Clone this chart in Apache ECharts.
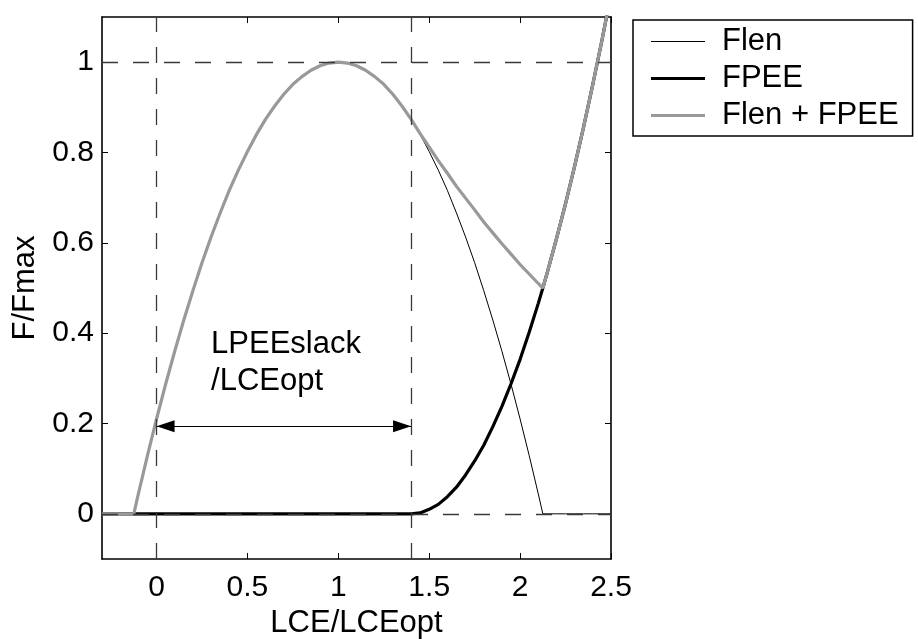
<!DOCTYPE html>
<html>
<head>
<meta charset="utf-8">
<script src="https://cdn.jsdelivr.net/npm/echarts@6/dist/echarts.min.js"></script>
<style>
html, body { margin: 0; padding: 0; background: #fff; }
#chart { width: 918px; height: 639px; }
</style>
</head>
<body>
<div id="chart"></div>
<script>
// Normalised contractile element length LCE/LCEopt
const lce = [-0.3, -0.125, -0.1, -0.05, 0, 0.05, 0.1, 0.15, 0.2, 0.25, 0.3, 0.35, 0.4, 0.45, 0.5,
  0.55, 0.6, 0.65, 0.7, 0.75, 0.8, 0.85, 0.9, 0.95, 1, 1.05, 1.1, 1.15, 1.2, 1.25, 1.3, 1.35, 1.4,
  1.45, 1.5, 1.55, 1.6, 1.65, 1.7, 1.75, 1.8, 1.85, 1.9, 1.95, 2, 2.05, 2.1, 2.125,
  2.15, 2.2, 2.25, 2.3, 2.35, 2.4, 2.45, 2.5];

// Active force-length relation
const flen = [0, 0, 0.044, 0.129, 0.210, 0.287, 0.360, 0.429, 0.494, 0.556, 0.613, 0.666, 0.716, 0.761, 0.802,
  0.840, 0.874, 0.903, 0.929, 0.951, 0.968, 0.982, 0.992, 0.998, 1.000, 0.998, 0.992, 0.982, 0.968, 0.951, 0.929, 0.903, 0.874,
  0.840, 0.802, 0.761, 0.716, 0.666, 0.613, 0.556, 0.494, 0.429, 0.360, 0.287, 0.210, 0.129, 0.044, 0,
  0, 0, 0, 0, 0, 0, 0, 0];

// Parallel elastic element force
const fpee = [0, 0, 0, 0, 0, 0, 0, 0, 0, 0, 0, 0, 0, 0, 0,
  0, 0, 0, 0, 0, 0, 0, 0, 0, 0, 0, 0, 0, 0, 0, 0, 0, 0,
  0.002, 0.010, 0.021, 0.038, 0.059, 0.086, 0.117, 0.152, 0.193, 0.238, 0.288, 0.342, 0.402, 0.466, 0.500,
  0.535, 0.609, 0.687, 0.770, 0.858, 0.951, 1.048, 1.151];

// Total passive + active force
const fsum = [0, 0, 0.044, 0.129, 0.210, 0.287, 0.360, 0.429, 0.494, 0.556, 0.613, 0.666, 0.716, 0.761, 0.802,
  0.840, 0.874, 0.903, 0.929, 0.951, 0.968, 0.982, 0.992, 0.998, 1.000, 0.998, 0.992, 0.982, 0.968, 0.951, 0.929, 0.903, 0.874,
  0.842, 0.812, 0.782, 0.754, 0.725, 0.699, 0.673, 0.646, 0.622, 0.598, 0.575, 0.552, 0.531, 0.510, 0.500,
  0.535, 0.609, 0.687, 0.770, 0.858, 0.951, 1.048, 1.151];

const seriesNames = ['Flen', 'FPEE', 'Flen + FPEE'];
const xTicks = [0, 0.5, 1, 1.5, 2, 2.5];
const yTicks = [0, 0.2, 0.4, 0.6, 0.8, 1];
const xRange = [-0.3, 2.5];
const yRange = [-0.1, 1.1];

// Reference lines and slack-length annotation
const refX = [0, 1.4];          // LCE = 0 and LPEEslack/LCEopt
const refY = [0, 1];
const slackArrow = { from: 0, to: 1.4, level: 0.194 };
const slackText = { x: 0.3, y: 0.417, text: 'LPEEslack\n/LCEopt' };

const FONT = '"Liberation Sans", Arial, Helvetica, sans-serif';
const GRAY = '#999999';
const DASH = '#3a3a3a';

function pairs(ys) { return lce.map((x, i) => [x, ys[i]]); }

function valueAxis(pos, range, ticks, withLabels, name, extra) {
  return Object.assign({
    type: 'value',
    position: pos,
    min: range[0],
    max: range[1],
    splitLine: { show: false },
    axisLine: { show: true, onZero: false, lineStyle: { color: '#000', width: 1.6 } },
    axisTick: { show: true, inside: true, length: 6, customValues: ticks, lineStyle: { color: '#000', width: 1 } },
    axisLabel: withLabels
      ? { show: true, customValues: ticks, color: '#000', fontFamily: FONT, fontSize: 30 }
      : { show: false },
    name: name || '',
    nameLocation: 'middle',
    nameTextStyle: { color: '#000', fontFamily: FONT, fontSize: 31 }
  }, extra || {});
}

const chart = echarts.init(document.getElementById('chart'), null, { renderer: 'canvas' });

const dashStyle = { type: [16, 15], color: DASH, width: 1.3 };

chart.setOption({
  animation: false,
  backgroundColor: '#fff',
  grid: { left: 102, right: 307, top: 17, bottom: 80, outerBoundsMode: 'none', containLabel: false },
  xAxis: [
    valueAxis('bottom', xRange, xTicks, true, 'LCE/LCEopt', { nameGap: 47, axisLabel: { show: true, customValues: xTicks, color: '#000', fontFamily: FONT, fontSize: 30, margin: 14 } }),
    valueAxis('top', xRange, xTicks, false)
  ],
  yAxis: [
    valueAxis('left', yRange, yTicks, true, 'F/Fmax', { nameGap: 60, axisLabel: { show: true, customValues: yTicks, color: '#000', fontFamily: FONT, fontSize: 30, margin: 8 } }),
    valueAxis('right', yRange, yTicks, false)
  ],
  legend: {
    orient: 'vertical',
    left: 633,
    top: 20,
    padding: [3, 14, 2, 18],
    itemGap: 0,
    itemWidth: 54,
    itemHeight: 12,
    borderColor: '#000',
    borderWidth: 1.5,
    backgroundColor: '#fff',
    selectedMode: false,
    textStyle: { color: '#000', fontFamily: FONT, fontSize: 31, lineHeight: 37, padding: [0, 0, 0, 12] },
    data: [
      { name: seriesNames[0], icon: 'path://M0,0H54V1.2H0Z' },
      { name: seriesNames[1], icon: 'path://M0,0H54V3.2H0Z' },
      { name: seriesNames[2], icon: 'path://M0,0H54V3.2H0Z' }
    ]
  },
  series: [
    {
      name: seriesNames[0],
      type: 'line',
      data: pairs(flen),
      symbol: 'none',
      silent: true,
      itemStyle: { color: '#000' },
      lineStyle: { color: '#000', width: 1 }
    },
    {
      name: seriesNames[1],
      type: 'line',
      data: pairs(fpee),
      symbol: 'none',
      silent: true,
      itemStyle: { color: '#000' },
      lineStyle: { color: '#000', width: 3.2 }
    },
    {
      name: seriesNames[2],
      type: 'line',
      data: pairs(fsum),
      symbol: 'none',
      silent: true,
      itemStyle: { color: GRAY },
      lineStyle: { color: GRAY, width: 3.2 },
      markLine: {
        silent: true,
        symbol: 'none',
        label: { show: false },
        emphasis: { disabled: true },
        lineStyle: dashStyle,
        data: [
          ...refX.map(v => ({ xAxis: v, lineStyle: dashStyle })),
          ...refY.map(v => ({ yAxis: v, lineStyle: dashStyle })),
          [
            { coord: [slackArrow.from, slackArrow.level], symbol: 'triangle', symbolSize: [12, 18], symbolOffset: [0, 9],
              lineStyle: { type: 'solid', color: '#000', width: 1.2 }, itemStyle: { color: '#000' } },
            { coord: [slackArrow.to, slackArrow.level], symbol: 'triangle', symbolSize: [12, 18], symbolOffset: [0, 9],
              itemStyle: { color: '#000' } }
          ]
        ]
      },
      markPoint: {
        silent: true,
        symbol: 'circle',
        symbolSize: 0,
        itemStyle: { color: 'rgba(0,0,0,0)' },
        label: {
          show: true,
          position: [0, 0],
          align: 'left',
          verticalAlign: 'top',
          color: '#000',
          fontFamily: FONT,
          fontSize: 31,
          lineHeight: 37,
          formatter: slackText.text
        },
        data: [{ coord: [slackText.x, slackText.y] }]
      }
    }
  ]
});
</script>
</body>
</html>
